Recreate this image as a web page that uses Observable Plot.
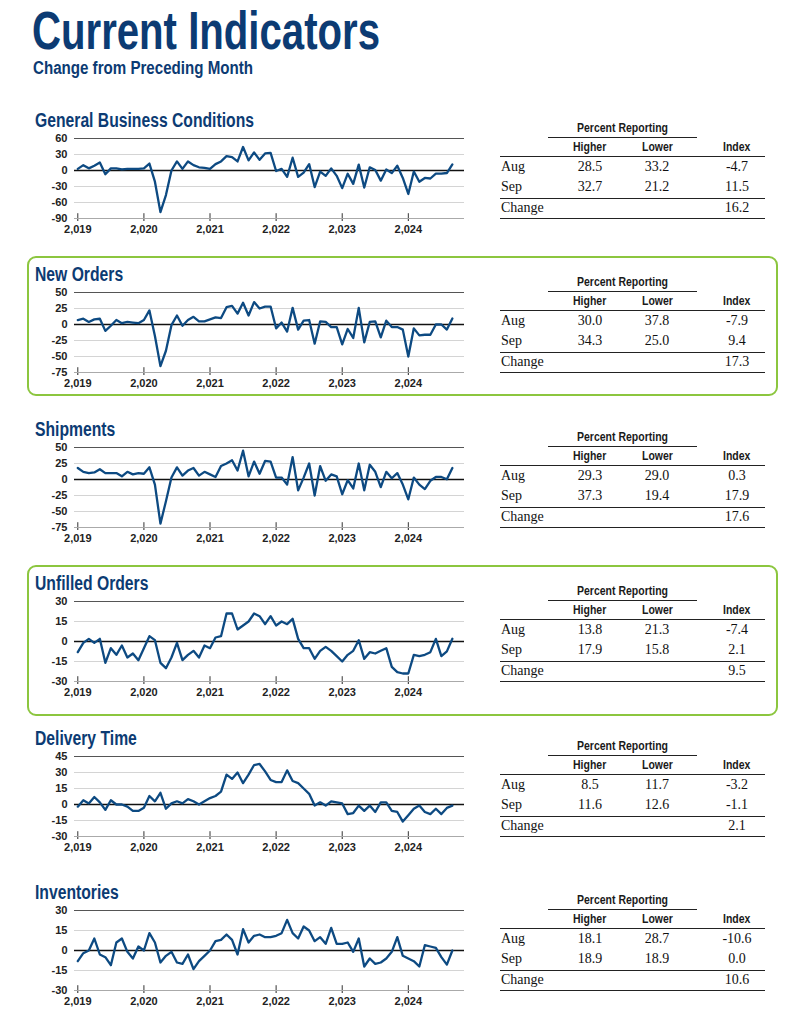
<!DOCTYPE html>
<html><head><meta charset="utf-8">
<script src="https://cdn.jsdelivr.net/npm/d3@7"></script>
<script src="https://cdn.jsdelivr.net/npm/@observablehq/plot@0.6"></script>
<style>
html,body{margin:0;padding:0;background:#fff;}
body{width:789px;height:1024px;position:relative;overflow:hidden;font-family:"Liberation Sans",Arial,sans-serif;}
.abs{position:absolute;white-space:nowrap;line-height:1.15;}
.navy{color:#0c3b73;font-weight:bold;line-height:1;}
.box{position:absolute;border:2px solid #8cc63f;border-radius:9px;}
.hdr{font-family:"Liberation Sans",Arial,sans-serif;font-size:12.5px;font-weight:bold;color:#1a1a1a;}
.num{font-family:"Liberation Serif","Times New Roman",serif;font-size:14px;color:#111;}
.hl{position:absolute;height:0;border-top:1px solid #222;}
</style>
</head><body>
<script>
// ---------- data ----------
const years = [2019, 2020, 2021, 2022, 2023, 2024];
const panelTitles = ["General Business Conditions","New Orders","Shipments","Unfilled Orders","Delivery Time","Inventories"];
const generalBusiness = [3,10,4,9,15,-7,4,4,2,3,3,3, 4,13,-21,-78,-46,0,17,3,17,10,6,5, 3,12,17,27,25,17,44,19,34,20,32,33, -1,3,-12,24,-12,-4,12,-31,-2,-10,4,-10, -33,-6,-25,11,-32,6,1,-19,2,-5,9,-14, -44,-2,-21,-14,-15,-6,-6,-4.7,11.5];
const newOrders = [7,9,4,8,9,-10,-2,7,2,4,3,2, 7,22,-18,-65,-41,-1,14,-2,7,12,5,5, 8,11,10,27,29,17,34,14,35,25,28,28, -6,3,-11,26,-8,6,7,-30,5,4,-4,-4, -31,-7,-21,26,-28,4,5,-20,6,-4,-4,-8, -50,-6,-17,-16,-16,0,0,-7.9,9.4];
const shipments = [18,12,10,11,16,10,10,10,5,12,8,10, 9,19,-8,-69,-34,3,19,6,14,18,6,12, 8,4,21,25,30,14,45,5,28,9,29,28, 3,3,-8,35,-17,3,25,-25,21,-2,8,5, -23,-1,-14,25,-17,23,12,-12,12,2,10,-8, -31,3,-8,-15,-2,4,4,0.3,17.9];
const unfilledOrders = [-8,-1,2,-1,2,-16,-5,-10,-3,-12,-9,-14, -5,4,1,-16,-20,-12,-1,-14,-10,-7,-12,-3, -5,3,4,21,21,9,12,15,21,19,13,19, 12,15,13,17,2,-5,-5,-13,-7,-4,-7,-11, -15,-10,-7,1,-13,-8,-9,-7,-5,-19,-23,-24, -24,-10,-11,-10,-8,2,-11,-7.4,2.1];
const deliveryTime = [-2,4,1,7,2,-5,4,0,0,-2,-6,-6, -3,8,3,11,-4,1,3,1,5,3,0,3, 6,8,12,28,24,30,20,28,37,38,31,23, 21,21,32,22,20,15,10,-1,2,-1,3,2, 1,-9,-8,-1,-6,-1,-7,2,2,-6,-7,-16, -10,-4,-1,-7,-9,-4,-9,-3.2,-1.1];
const inventories = [-8,-2,0,9,-3,-5,-11,6,9,-1,-6,3, 0,13,6,-9,-4,-1,-9,-10,-3,-14,-8,-4, 0,7,8,12,8,-3,16,6,11,12,10,10, 11,13,23,13,9,18,15,7,10,5,17,5, 5,6,-1,9,-12,-6,-10,-9,-6,-1,10,-4, -6,-8,-12,4,3,2,-5,-10.6,0];
const yTicks = [[-90,-60,-30,0,30,60],[-75,-50,-25,0,25,50],[-75,-50,-25,0,25,50],[-30,-15,0,15,30],[-30,-15,0,15,30,45],[-30,-15,0,15,30]];
// table
const rowLabels = ["Aug","Sep","Change"];
const colLabels = ["Higher","Lower","Index"];
const higherAug = ["28.5","30.0","29.3","13.8","8.5","18.1"];
const lowerAug  = ["33.2","37.8","29.0","21.3","11.7","28.7"];
const indexAug  = ["-4.7","-7.9","0.3","-7.4","-3.2","-10.6"];
const higherSep = ["32.7","34.3","37.3","17.9","11.6","18.9"];
const lowerSep  = ["21.2","25.0","19.4","15.8","12.6","18.9"];
const indexSep  = ["11.5","9.4","17.9","2.1","-1.1","0.0"];
const changeIdx = ["16.2","17.3","17.6","9.5","2.1","10.6"];
const series = [generalBusiness,newOrders,shipments,unfilledOrders,deliveryTime,inventories];
const boxed = [false,true,false,true,false,false];

// ---------- helpers ----------
function addText(txt, cls, left, top, opts={}) {
  const d = document.createElement("div");
  d.className = "abs " + cls;
  d.textContent = txt;
  d.style.left = left + "px"; d.style.top = top + "px";
  if (opts.size) d.style.fontSize = opts.size + "px";
  document.body.appendChild(d);
  if (opts.width || opts.scale || opts.center != null || opts.right != null) {
    const w = d.getBoundingClientRect().width;
    const s = opts.scale || (opts.width ? opts.width / w : 1);
    d.style.transformOrigin = "left top";
    d.style.transform = `scaleX(${s})`;
    if (opts.center != null) d.style.left = (opts.center - w * s / 2) + "px";
    if (opts.right != null) d.style.left = (opts.right - w * s) + "px";
    d._scale = s;
  }
  return d;
}
function hline(x1, x2, y, w=1) {
  const d = document.createElement("div");
  d.className = "hl";
  d.style.left = x1 + "px"; d.style.width = (x2 - x1) + "px"; d.style.top = y + "px";
  d.style.borderTopWidth = w + "px";
  document.body.appendChild(d);
}

// ---------- header ----------
addText("Current Indicators", "navy", 32, 4, {size: 53, width: 348});
addText("Change from Preceding Month", "navy", 33, 59, {size: 18, width: 220});

const step = 154.4;
let titleScale = null;
panelTitles.forEach((t, p) => {
  const base = 121 + step * p; // title center line
  if (boxed[p]) {
    const b = document.createElement("div");
    b.className = "box";
    const top = base - 19, bottom = p === 1 ? base + 121 : base + 132;
    b.style.left = "27px"; b.style.top = top + "px";
    b.style.width = (778 - 27 - 4) + "px"; b.style.height = (bottom - top - 4) + "px";
    document.body.appendChild(b);
  }
  const el = addText(t, "navy", 35, base - 10, titleScale ? {size: 19.5, scale: titleScale} : {size: 19.5, width: 219});
  if (!titleScale) titleScale = el._scale;

  // chart
  const ticks = yTicks[p];
  const ymin = ticks[0], ymax = ticks[ticks.length - 1];
  const data = series[p].map((v, i) => ({i, v}));
  const tickIdx = years.map((y, k) => k * 12);
  const chart = Plot.plot({
    width: 440, height: 110,
    marginLeft: 44, marginRight: 6, marginTop: 8, marginBottom: 22,
    x: {domain: [-0.6, 70.2], ticks: tickIdx, tickFormat: i => years[i / 12], tickSize: 3, tickPadding: 4, label: null},
    y: {domain: [ymin, ymax], ticks, tickFormat: d => String(d), tickSize: 0, tickPadding: 7, label: null},
    style: {fontFamily: "'Liberation Sans', Arial, sans-serif", fontSize: "11px", fontWeight: "bold", color: "#222", background: "transparent", overflow: "visible"},
    marks: [
      Plot.ruleY(ticks, {stroke: d => d === ymax ? "#555" : (d === ymin ? "#aaa" : "#d4d4d4"), strokeWidth: d => d === ymax ? 1.2 : 1}),
      Plot.ruleY([0], {stroke: "#111", strokeWidth: 1.6}),
      Plot.ruleX(tickIdx, {y1: ymin, y2: ymin + (ymax - ymin) * 0.06, stroke: "#333"}),
      Plot.line(data, {x: "i", y: "v", stroke: "#0d4a82", strokeWidth: 2.3, strokeLinejoin: "round"})
    ]
  });
  chart.style.position = "absolute";
  chart.style.left = "30px";
  chart.style.top = (base + 9) + "px";
  document.body.appendChild(chart);

  // table
  const hs = 0.84;
  addText("Percent Reporting", "hdr", 0, base + 0, {center: 623, scale: hs});
  hline(548, 697, base + 16);
  const cx = [590, 657, 737];
  colLabels.forEach((c, k) => addText(c, "hdr", 0, base + 19, {center: cx[k], scale: hs}));
  hline(500, 765, base + 35);
  const rows = [[higherAug[p], lowerAug[p], indexAug[p]], [higherSep[p], lowerSep[p], indexSep[p]], ["", "", changeIdx[p]]];
  const rowY = [base + 38, base + 58, base + 79];
  rowLabels.forEach((r, k) => {
    addText(r, "num", 501, rowY[k]);
    rows[k].forEach((v, j) => { if (v) addText(v, "num", 0, rowY[k], {center: cx[j]}); });
  });
  hline(500, 765, base + 77);
  hline(500, 765, base + 97);
});
</script>
</body></html>
